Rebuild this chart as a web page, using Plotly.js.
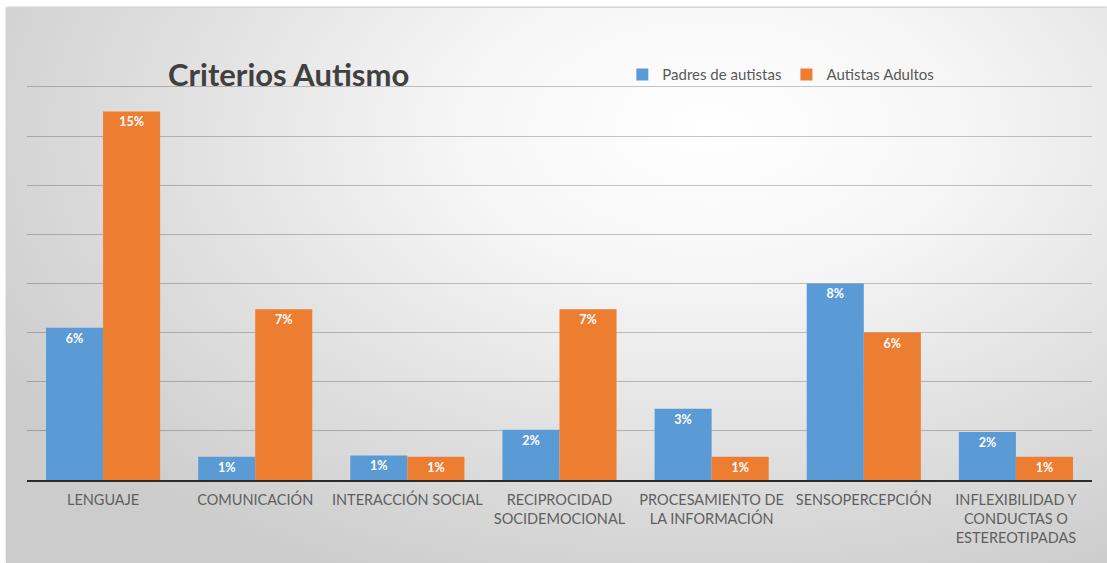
<!DOCTYPE html>
<html>
<head>
<meta charset="utf-8">
<script src="https://cdn.plot.ly/plotly-3.0.1.min.js"></script>
<style>
  html, body { margin: 0; padding: 0; background: #ffffff; }
  #bg {
    position: absolute; left: 6px; top: 8px; width: 1101px; height: 555px;
    background: radial-gradient(ellipse 75% 90% at 64% 22%, #ffffff 0%, #f6f6f6 30%, #e0e0e0 65%, #cccccc 100%);
    box-shadow: 0 -1px 2px rgba(0,0,0,0.25);
  }
  #chart { position: absolute; left: 0; top: 0; width: 1107px; height: 563px; }
</style>
</head>
<body>
<div id="bg"></div>
<div id="chart"></div>
<script>
const categories = [
  "LENGUAJE",
  "COMUNICACIÓN",
  "INTERACCIÓN SOCIAL",
  "RECIPROCIDAD<br>SOCIDEMOCIONAL",
  "PROCESAMIENTO DE<br>LA INFORMACIÓN",
  "SENSOPERCEPCIÓN",
  "INFLEXIBILIDAD Y<br>CONDUCTAS O<br>ESTEREOTIPADAS"
];
const padres = [6.2, 0.95, 1.0, 2.05, 2.9, 8.0, 1.95];
const autistas = [15.0, 6.95, 0.95, 6.95, 0.95, 6.0, 0.95];
const seriesNames = ["Padres de autistas", "Autistas Adultos"];
const colors = ["#5B9BD5", "#ED7D31"];

const labelFont = {family: "Lato, 'Open Sans', sans-serif", size: 12.5, color: "#ffffff", weight: "bold"};

const traces = [padres, autistas].map((vals, i) => ({
  type: "bar",
  name: seriesNames[i],
  x: categories,
  y: vals,
  marker: {color: colors[i]},
  texttemplate: "%{y:.0f}%",
  textposition: "inside",
  insidetextanchor: "end",
  textangle: 0,
  constraintext: "none",
  textfont: labelFont,
  hoverinfo: "x+y"
}));

const layout = {
  width: 1107,
  height: 563,
  paper_bgcolor: "rgba(0,0,0,0)",
  plot_bgcolor: "rgba(0,0,0,0)",
  margin: {l: 27, r: 15, t: 82, b: 83},
  barmode: "group",
  bargap: 0.25,
  bargroupgap: 0,
  title: {
    text: "<b>Criterios Autismo</b>",
    x: 168/1107, xanchor: "left", xref: "container",
    y: 1 - 75/563, yanchor: "middle", yref: "container",
    font: {family: "Lato, 'Open Sans', sans-serif", size: 31, color: "#404040"}
  },
  legend: {
    orientation: "h",
    x: 0.559, xanchor: "left",
    y: 1.018, yanchor: "middle",
    font: {family: "Lato, 'Open Sans', sans-serif", size: 15, color: "#595959"},
    bgcolor: "rgba(0,0,0,0)",
    itemwidth: 30,
    traceorder: "normal"
  },
  xaxis: {
    showline: true, linecolor: "#2b2b2b", linewidth: 2,
    ticks: "", showgrid: false,
    ticklabelstandoff: 6,
    tickfont: {family: "Lato, 'Open Sans', sans-serif", size: 14.5, color: "#5f5f5f"},
    fixedrange: true
  },
  yaxis: {
    range: [0, 16.2], dtick: 2, showticklabels: false, ticks: "",
    showgrid: true, gridcolor: "rgba(0,0,0,0.22)", gridwidth: 1,
    zeroline: false, fixedrange: true
  },
  showlegend: true
};

Plotly.newPlot("chart", traces, layout, {displayModeBar: false, staticPlot: true});
</script>
</body>
</html>
